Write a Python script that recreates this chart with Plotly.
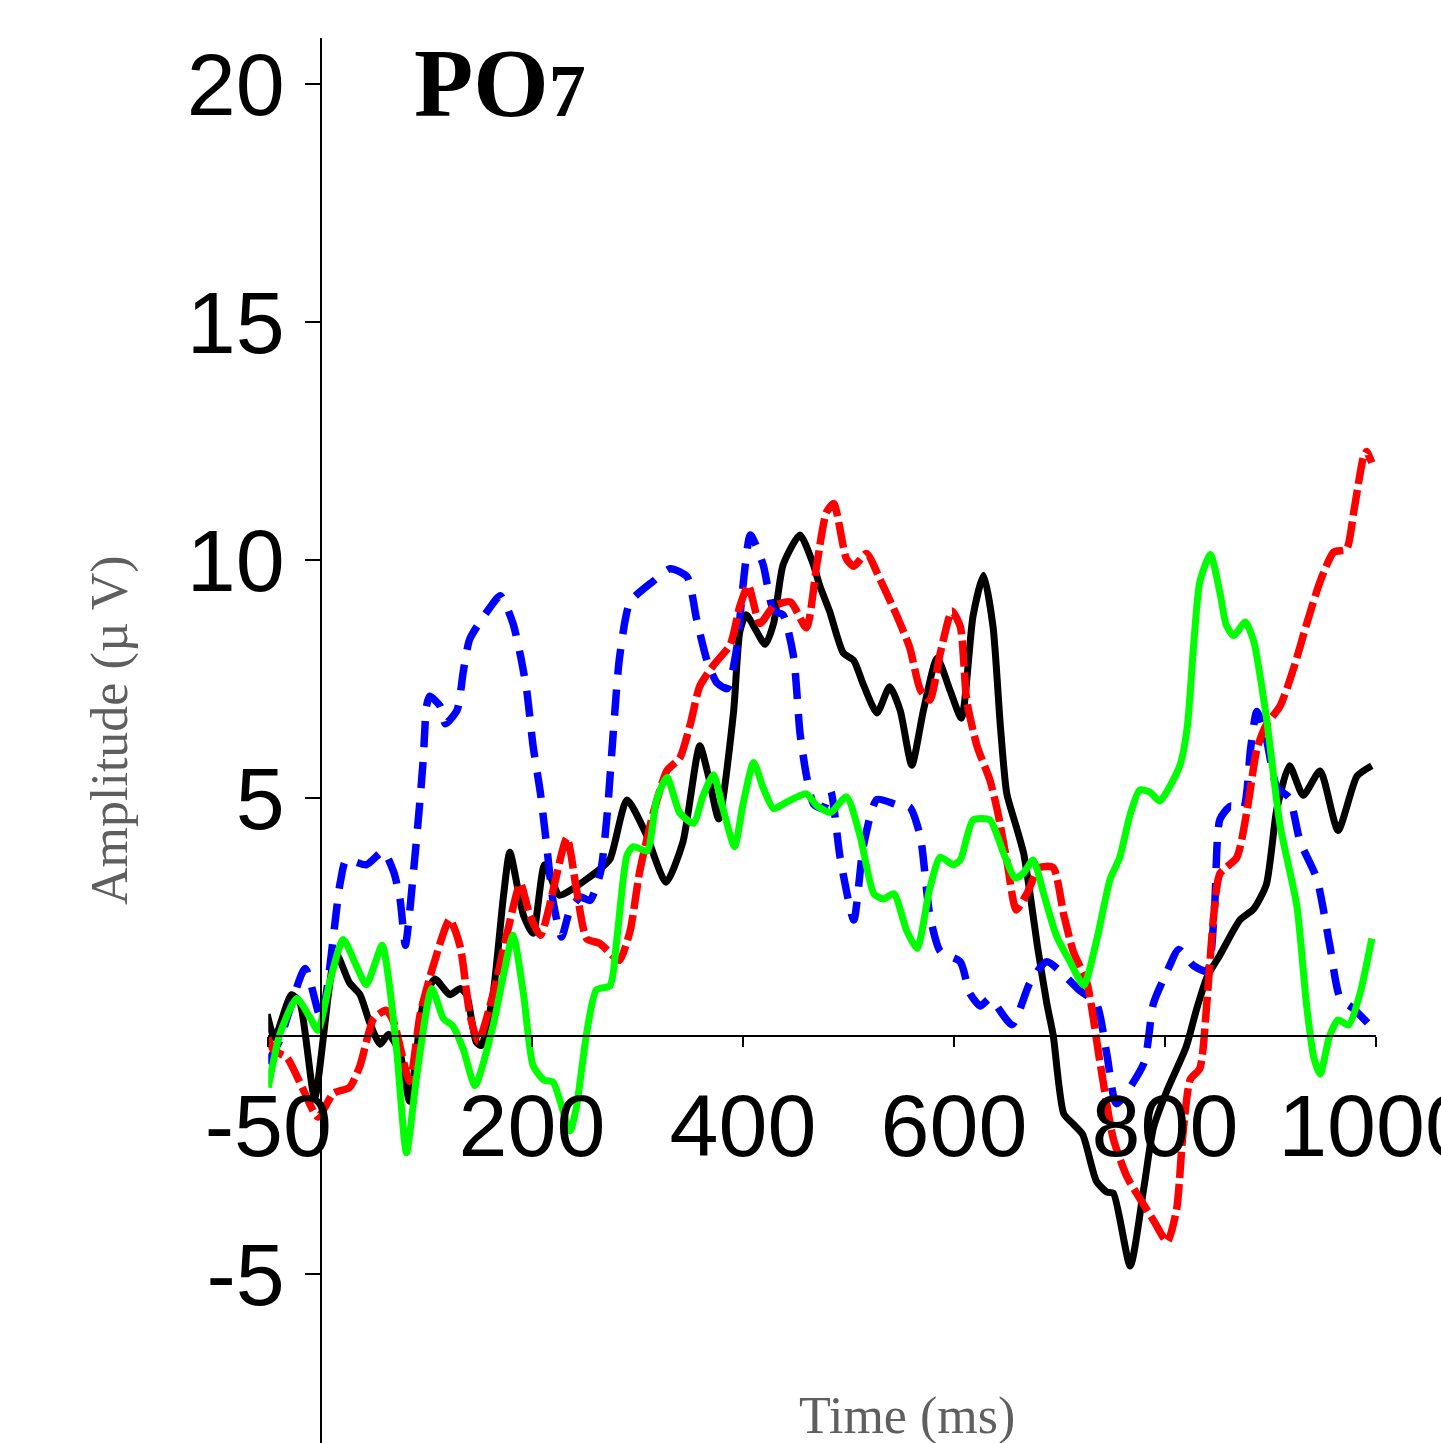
import plotly.graph_objects as go

# ---- data (time in ms, amplitude in µV) ----
t_black = [-51, -44, -28, -20, -6, 14, 27, 37, 46, 56, 64, 75, 84, 97, 108, 122, 132, 138, 147, 152, 163, 173, 179, 192, 201, 212, 226, 239, 264, 274, 290, 308, 327, 343, 359, 367, 377, 391, 397, 403, 421, 429, 438, 454, 466, 473, 482, 495, 505, 514, 527, 539, 549, 560, 571, 584, 596, 607, 618, 628, 637, 644, 650, 659, 666, 672, 679, 688, 694, 704, 713, 722, 735, 745, 751, 767, 780, 789, 802, 820, 830, 840, 852, 871, 884, 896, 906, 918, 931, 947, 964, 982, 996]
v_black = [0.46, -0.04, 0.87, 0.7, -1.29, 1.74, 1.12, 0.87, 0.29, -0.17, 0.04, -0.37, -1.37, 0.71, 1.2, 0.87, 1.0, 0.87, -0.12, -0.2, 0.87, 2.95, 3.86, 2.53, 2.16, 3.6, 2.96, 3.1, 3.5, 3.72, 4.96, 4.25, 3.23, 4.07, 6.1, 5.49, 4.56, 6.8, 8.5, 8.85, 8.23, 8.67, 9.9, 10.53, 9.95, 9.45, 8.93, 8.05, 7.89, 7.39, 6.79, 7.34, 6.84, 5.69, 6.84, 7.94, 7.28, 6.68, 8.82, 9.68, 8.6, 6.5, 5.1, 4.4, 3.84, 3.0, 1.9, 0.68, 0.02, -1.63, -1.85, -2.07, -3.05, -3.28, -3.3, -4.83, -3.18, -1.93, -1.14, -0.23, 0.57, 1.25, 1.7, 2.44, 2.67, 3.18, 4.77, 5.68, 5.06, 5.57, 4.32, 5.46, 5.68]

t_blue = [-51, -39, -15, 0, 18, 24, 43, 59, 69, 75, 80, 88, 94, 97, 100, 103, 113, 118, 129, 135, 141, 160, 170, 182, 189, 195, 201, 208, 214, 220, 228, 236, 246, 255, 265, 271, 277, 283, 293, 315, 331, 347, 356, 366, 375, 385, 394, 400, 407, 419, 429, 438, 448, 454, 460, 467, 476, 483, 492, 505, 514, 527, 546, 558, 568, 577, 587, 606, 615, 625, 634, 655, 672, 688, 719, 735, 745, 754, 780, 789, 802, 813, 827, 840, 847, 852, 862, 874, 881, 887, 896, 906, 918, 928, 944, 956, 966, 979, 994]
v_blue = [-0.58, -0.08, 1.42, 0.37, 3.2, 3.7, 3.6, 3.88, 3.44, 2.86, 1.91, 3.53, 5.0, 5.85, 6.93, 7.14, 6.93, 6.56, 6.85, 7.68, 8.34, 9.0, 9.25, 8.67, 8.0, 7.26, 6.1, 5.1, 3.98, 2.83, 2.08, 2.65, 2.92, 2.85, 3.45, 4.6, 6.37, 7.96, 9.12, 9.56, 9.82, 9.65, 8.76, 7.88, 7.43, 7.3, 8.14, 9.47, 10.53, 9.91, 8.94, 8.85, 7.96, 6.37, 5.49, 4.87, 4.78, 5.15, 3.76, 2.44, 3.98, 4.97, 4.86, 4.81, 4.2, 2.55, 1.78, 1.56, 0.9, 0.63, 0.79, 0.24, 1.12, 1.56, 0.96, 0.68, -0.4, -1.42, -0.57, 0.68, 1.36, 1.82, 1.48, 1.36, 2.73, 4.55, 4.83, 4.77, 6.02, 6.82, 6.25, 5.23, 5.0, 4.09, 3.3, 1.93, 0.8, 0.57, 0.23]

t_red = [-51, -45, -32, -17, -3, 12, 27, 37, 50, 62, 69, 84, 94, 106, 122, 132, 141, 149, 163, 176, 189, 198, 208, 233, 242, 252, 264, 277, 283, 293, 302, 315, 328, 340, 350, 359, 372, 388, 397, 405, 416, 429, 445, 460, 470, 479, 486, 498, 505, 517, 530, 546, 558, 568, 577, 587, 598, 606, 612, 622, 634, 641, 650, 659, 669, 681, 694, 704, 713, 726, 738, 751, 764, 776, 789, 802, 811, 817, 824, 833, 840, 846, 852, 868, 878, 887, 896, 909, 922, 934, 947, 960, 972, 979, 988, 991, 996]
v_red = [0.0, -0.29, -0.46, -1.12, -1.7, -1.2, -1.08, -0.62, 0.37, 0.54, 0.29, -0.95, 0.46, 1.45, 2.45, 1.87, 0.46, -0.12, 0.87, 2.12, 3.2, 2.53, 2.12, 4.16, 3.1, 2.04, 1.95, 1.68, 1.59, 2.21, 3.45, 4.69, 5.58, 5.84, 6.55, 7.35, 7.79, 8.23, 9.03, 9.47, 8.67, 9.03, 9.12, 8.58, 9.91, 11.0, 11.19, 10.03, 9.87, 10.14, 9.59, 8.82, 8.16, 7.28, 7.06, 8.05, 8.93, 8.6, 7.06, 6.08, 5.38, 4.75, 3.7, 2.65, 2.99, 3.54, 3.54, 2.55, 1.78, 1.12, -0.5, -2.16, -2.96, -3.41, -3.87, -4.32, -3.64, -2.05, -0.91, -0.68, 0.8, 2.5, 3.41, 3.75, 4.77, 6.02, 6.54, 6.93, 7.73, 8.64, 9.55, 10.17, 10.23, 11.03, 12.16, 12.28, 12.05]

t_green = [-50, -39, -23, -10, -3, 9, 21, 34, 43, 58, 65, 72, 81, 91, 105, 116, 125, 135, 146, 163, 173, 182, 192, 201, 211, 220, 236, 242, 252, 261, 274, 280, 290, 296, 309, 318, 328, 340, 353, 362, 372, 381, 392, 400, 410, 419, 429, 441, 460, 470, 483, 498, 511, 524, 533, 543, 555, 565, 577, 587, 599, 606, 618, 634, 647, 658, 666, 675, 685, 697, 710, 723, 735, 748, 757, 767, 776, 786, 795, 814, 821, 827, 833, 843, 852, 858, 865, 876, 884, 896, 909, 925, 934, 941, 947, 956, 964, 974, 985, 996]
v_green = [-1.08, 0.04, 0.79, 0.37, 0.12, 1.2, 2.03, 1.45, 1.08, 1.91, 1.04, -0.37, -2.45, -0.79, 1.0, 0.37, 0.21, -0.29, -1.04, 0.21, 1.29, 2.12, 0.87, -0.62, -0.92, -0.97, -1.99, -1.5, 0.09, 0.97, 1.06, 1.95, 3.8, 3.98, 3.89, 4.96, 5.44, 4.69, 4.47, 5.04, 5.49, 4.78, 3.98, 4.87, 5.75, 5.22, 4.78, 4.91, 5.09, 4.84, 4.7, 5.03, 4.2, 2.99, 2.88, 2.99, 2.22, 1.84, 3.1, 3.76, 3.6, 3.7, 4.54, 4.54, 3.84, 3.32, 3.43, 3.7, 2.99, 2.11, 1.56, 1.07, 2.0, 3.3, 3.75, 4.66, 5.17, 5.12, 4.94, 5.68, 6.48, 8.18, 9.55, 10.12, 9.32, 8.64, 8.41, 8.7, 8.3, 6.71, 4.43, 2.73, 0.68, -0.45, -0.8, 0.0, 0.34, 0.23, 0.91, 2.05]

x_ticks = [-50, 200, 400, 600, 800, 1000]
y_ticks = [-5, 5, 10, 15, 20]

W, H = 1441, 1443

fig = go.Figure()
series = [
    (t_black, v_black, "#000000", "solid", 7),
    (t_blue, v_blue, "#0000ff", "26px,15px", 7.5),
    (t_red, v_red, "#ff0000", "26px,6px", 7.5),
    (t_green, v_green, "#00ff00", "solid", 7),
]
for t, v, c, d, w in series:
    fig.add_trace(go.Scatter(x=t, y=v, mode="lines",
                             line=dict(color=c, dash=d, width=w, shape="spline", smoothing=0.6),
                             showlegend=False, hoverinfo="skip"))

tickfont = dict(family="Liberation Sans, Arial, sans-serif", size=88, color="black")
fig.update_layout(
    width=W, height=H,
    margin=dict(l=0, r=0, t=0, b=0),
    paper_bgcolor="white", plot_bgcolor="white",
    showlegend=False,
    xaxis=dict(domain=[268.25 / W, 1376 / W], range=[-50, 1000],
               anchor="free", position=1 - 1036 / H,
               showline=True, linecolor="black", linewidth=1.5,
               ticks="outside", ticklen=10, tickwidth=1.5, tickcolor="black",
               tickvals=x_ticks, ticktext=[str(v) for v in x_ticks],
               tickfont=tickfont, showgrid=False, zeroline=False,
               automargin=False, ticklabelstandoff=4,
               ticklabeloverflow="allow"),
    yaxis=dict(domain=[0, 1 - 38 / H], range=[-8.55, 20.97],
               anchor="free", position=321 / W,
               showline=True, linecolor="black", linewidth=1.5,
               ticks="outside", ticklen=15, tickwidth=1.5, tickcolor="black",
               tickvals=y_ticks, ticktext=[str(v) for v in y_ticks],
               tickfont=tickfont, showgrid=False, zeroline=False,
               automargin=False, ticklabelstandoff=3,
               ticklabeloverflow="allow"),
)

fig.add_annotation(text="<b>PO<span style='font-size:74px'>7</span></b>",
                   xref="paper", yref="paper", x=412 / W, y=1 - 28 / H,
                   xanchor="left", yanchor="top", showarrow=False,
                   font=dict(family="Liberation Serif, Times New Roman, serif", size=97, color="black"))
fig.add_annotation(text="Amplitude (µ V)", textangle=-90,
                   xref="paper", yref="paper", x=110 / W, y=1 - 730 / H,
                   xanchor="center", yanchor="middle", showarrow=False,
                   font=dict(family="Liberation Serif, Times New Roman, serif", size=52, color="#5f5f5f"))
fig.add_annotation(text="Time (ms)",
                   xref="paper", yref="paper", x=907 / W, y=1 - 1416 / H,
                   xanchor="center", yanchor="middle", showarrow=False,
                   font=dict(family="Liberation Serif, Times New Roman, serif", size=52, color="#5f5f5f"))

fig.write_html("out.html", config={"displayModeBar": False},
               post_script="document.body.style.margin='0px';document.body.style.overflow='hidden';")
